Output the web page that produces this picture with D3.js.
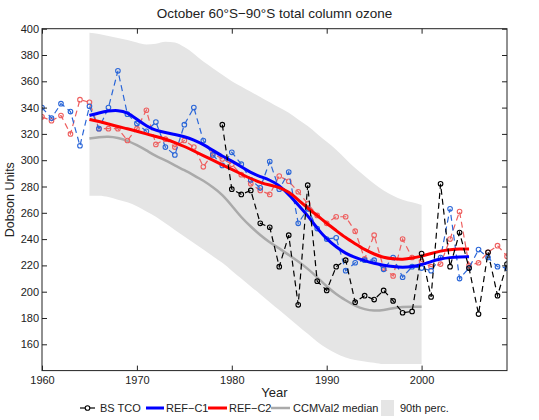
<!DOCTYPE html>
<html>
<head>
<meta charset="utf-8">
<script src="https://cdn.jsdelivr.net/npm/d3@7"></script>
<style>
  body { margin: 0; background: #fff; }
  text { font-family: "Liberation Sans", Arial, sans-serif; fill: #222; }
</style>
</head>
<body>
<div id="chart"></div>
<script>
// yearly values
const refStart = 1960;
const refC1 = [340, 332, 343, 337, 311, 341, 324, 340, 368, 335,
               328, 322, 329, 310, 304, 327, 340, 315, 304, 296,
               306, 297, 285, 279, 299, 278, 291, 252, 263, 248,
               240, 241, 216, 222, 224, 224, 217, 226, 211, 219,
               218, 216, 226, 263, 210, 218, 232, 226, 219, 218];
const refC2 = [333, 330, 334, 320, 346, 344, 324, 324, 324, 315,
               324, 338, 312, 316, 310, 315, 310, 295, 305, 301,
               297, 289, 282, 277, 274, 288, 284, 276, 267, 258,
               252, 257, 257, 246, 225, 243, 218, 212, 240, 226,
               223, 219, 221, 240, 261, 220, 222, 230, 235, 227];

const bsStart = 1979;
const bsTco = [327, 278, 274, 277, 252, 249, 219, 243, 190, 281,
               208, 201, 219, 224, 192, 197, 194, 201, 193, 184,
               185, 229, 196, 282, 219, 245, 218, 183, 230, 197, 221];

// smoothed curves, 1965-2005
const smoothStart = 1965;
const refC1Smooth = [334, 336, 337.5, 338, 336.5, 331, 326, 322.5, 321, 319.5,
                     318, 315.5, 312, 307.5, 303, 299.5, 295, 290.5, 287.5, 285,
                     281, 274, 266, 258, 248, 240, 234, 229, 226, 223.5,
                     221.5, 220, 219, 218.5, 219, 220.5, 223, 225, 226, 226.5, 226.5];
const refC2Smooth = [331, 329.5, 327.5, 325.5, 324, 322, 320, 318, 316, 313.5,
                     310.5, 307, 303.5, 300, 296.5, 293, 289.5, 286, 283, 281,
                     279.5, 276, 270, 263.5, 258, 252, 246.5, 241, 236.5, 232,
                     228.5, 226, 225, 224.5, 225.5, 227, 229, 231, 232, 232.5, 232.5];

// CCMVal2 multi-model median and 90th percentile range, 1965-2000
const ccmMedian = [316.5, 317.5, 318, 317, 315, 311.5, 307.5, 303, 300, 296,
                   292.5, 288.5, 284.5, 279.5, 274, 265.5, 256.5, 249.5, 243, 237.5,
                   233, 228, 223, 217.5, 211, 204, 198, 193.5, 189, 186.5,
                   185.5, 186, 187.5, 188.5, 188.5, 188.5];
const ccmUpper = [397, 396, 394.5, 393, 391.5, 389.5, 388, 388.5, 390, 389.5,
                  386, 381, 375, 370, 365, 360, 356, 352, 348, 344,
                  340, 336, 331, 326, 320, 314, 308, 301, 294, 288,
                  282, 277, 273, 270, 268, 266];
const ccmLower = [273, 273, 272, 270, 268, 265, 261, 257, 252, 247,
                  242, 237, 232, 227, 222, 216, 210, 204, 198, 192,
                  186, 180, 174, 168, 162, 157, 153, 150, 148, 147,
                  146, 145, 145, 145, 145, 145];

const xTicks = [1960, 1970, 1980, 1990, 2000];
const yTicks = [160, 180, 200, 220, 240, 260, 280, 300, 320, 340, 360, 380, 400];

const W = 539, H = 420;
const plot = {left: 42, right: 507, top: 28.7, bottom: 370.6};

const svg = d3.select("#chart").append("svg")
    .attr("width", W)
    .attr("height", H);

const x = d3.scaleLinear().domain([1960, 2009]).range([plot.left, plot.right]);
const y = d3.scaleLinear().domain([140, 400]).range([plot.bottom, plot.top]);

function series(start, vals) {
    return vals.map((v, i) => ({year: start + i, v: v}));
}

const clip = svg.append("clipPath").attr("id", "clip")
    .append("rect")
    .attr("x", plot.left).attr("y", plot.top)
    .attr("width", plot.right - plot.left)
    .attr("height", plot.bottom - plot.top);

const g = svg.append("g").attr("clip-path", "url(#clip)");

// 90th percentile band
const bandData = ccmUpper.map((u, i) => ({year: smoothStart + i, hi: u, lo: ccmLower[i]}));
g.append("path")
    .datum(bandData)
    .attr("fill", "#e5e5e5")
    .attr("d", d3.area().x(d => x(d.year)).y0(d => y(d.lo)).y1(d => y(d.hi)).curve(d3.curveMonotoneX));

const line = d3.line().x(d => x(d.year)).y(d => y(d.v));
const smoothLine = d3.line().x(d => x(d.year)).y(d => y(d.v)).curve(d3.curveBasis);

// median
g.append("path")
    .datum(series(smoothStart, ccmMedian))
    .attr("fill", "none").attr("stroke", "#aaaaaa").attr("stroke-width", 2.5)
    .attr("d", smoothLine);

// dashed yearly series with open circles
function dashed(data, colour) {
    g.append("path")
        .datum(data)
        .attr("fill", "none")
        .attr("stroke", colour)
        .attr("stroke-width", 1.2)
        .attr("stroke-dasharray", "6,4")
        .attr("d", line);
    g.selectAll(null)
        .data(data)
        .enter()
        .append("circle")
        .attr("cx", d => x(d.year))
        .attr("cy", d => y(d.v))
        .attr("r", 2.3)
        .attr("fill", "none")
        .attr("stroke", colour)
        .attr("stroke-width", 1.1);
}

dashed(series(refStart, refC2), "#ee6060");
dashed(series(refStart, refC1), "#2a66d8");

g.append("path")
    .datum(series(smoothStart, refC1Smooth))
    .attr("fill", "none").attr("stroke", "#0000ff").attr("stroke-width", 3)
    .attr("d", smoothLine);
g.append("path")
    .datum(series(smoothStart, refC2Smooth))
    .attr("fill", "none").attr("stroke", "#ff0000").attr("stroke-width", 3)
    .attr("d", smoothLine);

dashed(series(bsStart, bsTco), "#000000");

// axes, ticks point inward like matlab
const fmt = d3.format("d");
svg.append("g")
    .attr("transform", `translate(0,${plot.bottom})`)
    .call(d3.axisBottom(x).tickValues(xTicks).tickFormat(fmt).tickSize(-5).tickPadding(6))
    .call(a => a.select(".domain").remove());
svg.append("g")
    .attr("transform", `translate(0,${plot.top})`)
    .call(d3.axisTop(x).tickValues(xTicks).tickFormat("").tickSize(-5))
    .call(a => a.select(".domain").remove());
svg.append("g")
    .attr("transform", `translate(${plot.left},0)`)
    .call(d3.axisLeft(y).tickValues(yTicks).tickFormat(fmt).tickSize(-5).tickPadding(3))
    .call(a => a.select(".domain").remove());
svg.append("g")
    .attr("transform", `translate(${plot.right},0)`)
    .call(d3.axisRight(y).tickValues(yTicks).tickFormat("").tickSize(-5))
    .call(a => a.select(".domain").remove());

svg.selectAll(".tick text").style("font-size", "11px").attr("fill", "#222");
svg.selectAll(".tick line").attr("stroke", "#222");

svg.append("rect")
    .attr("x", plot.left).attr("y", plot.top)
    .attr("width", plot.right - plot.left)
    .attr("height", plot.bottom - plot.top)
    .attr("fill", "none").attr("stroke", "#222").attr("stroke-width", 1);

// titles
svg.append("text")
    .attr("x", (plot.left + plot.right) / 2).attr("y", 18)
    .attr("text-anchor", "middle")
    .style("font-size", "13.5px")
    .text("October 60°S\u221290°S total column ozone");

svg.append("text")
    .attr("x", (plot.left + plot.right) / 2).attr("y", 397)
    .attr("text-anchor", "middle")
    .style("font-size", "13px")
    .text("Year");

svg.append("text")
    .attr("transform", `translate(14,${(plot.top + plot.bottom) / 2}) rotate(-90)`)
    .attr("text-anchor", "middle")
    .style("font-size", "12.5px")
    .text("Dobson Units");

// legend
const legend = svg.append("g").attr("transform", "translate(0,408)");
const items = [
    {label: "BS TCO", x0: 80, x1: 95, tx: 100, colour: "#000", width: 1.2, marker: true},
    {label: "REF\u2212C1", x0: 146, x1: 164, tx: 166, colour: "#0000ff", width: 3},
    {label: "REF\u2212C2", x0: 208, x1: 227, tx: 229, colour: "#ff0000", width: 3},
    {label: "CCMVal2 median", x0: 271, x1: 290, tx: 293, colour: "#aaaaaa", width: 2.5},
];
items.forEach(it => {
    legend.append("line")
        .attr("x1", it.x0).attr("x2", it.x1)
        .attr("stroke", it.colour).attr("stroke-width", it.width);
    if (it.marker) {
        legend.append("circle")
            .attr("cx", (it.x0 + it.x1) / 2).attr("r", 2.3)
            .attr("fill", "#fff").attr("stroke", it.colour).attr("stroke-width", 1.1);
    }
    legend.append("text")
        .attr("x", it.tx).attr("dy", "0.35em")
        .style("font-size", "11px")
        .text(it.label);
});
legend.append("rect")
    .attr("x", 381).attr("y", -8).attr("width", 13).attr("height", 16)
    .attr("fill", "#e5e5e5");
legend.append("text")
    .attr("x", 400).attr("dy", "0.35em")
    .style("font-size", "11px")
    .text("90th perc.");
</script>
</body>
</html>
